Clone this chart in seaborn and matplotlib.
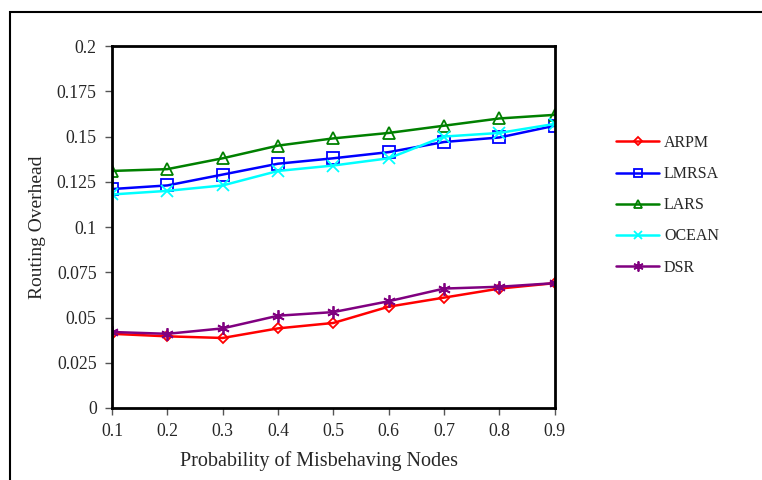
import numpy as np
import pandas as pd
import matplotlib
matplotlib.use("Agg")
import matplotlib.pyplot as plt
import seaborn as sns
from matplotlib.patches import Rectangle

# data
prob = [0.1, 0.2, 0.3, 0.4, 0.5, 0.6, 0.7, 0.8, 0.9]
arpm = [0.041, 0.0396, 0.0387, 0.044, 0.047, 0.056, 0.061, 0.066, 0.069]
lmrsa = [0.121, 0.123, 0.129, 0.135, 0.138, 0.1414, 0.147, 0.1495, 0.156]
lars = [0.131, 0.132, 0.138, 0.145, 0.149, 0.152, 0.156, 0.160, 0.162]
ocean = [0.118, 0.120, 0.123, 0.131, 0.134, 0.138, 0.150, 0.152, 0.157]
dsr = [0.042, 0.041, 0.044, 0.051, 0.053, 0.059, 0.066, 0.067, 0.069]

series = ["ARPM", "LMRSA", "LARS", "OCEAN", "DSR"]
values = [arpm, lmrsa, lars, ocean, dsr]
colors = ["#ff0000", "#0000ff", "#008000", "#00ffff", "#800080"]
markers = ["D", "s", "^", "x", (6, 2, 0)]
msizes = [5, 8, 8, 8, 9]

sns.set_style("white")
plt.rcParams["font.family"] = ["Liberation Serif", "DejaVu Serif"]

fig = plt.figure(figsize=(7.62, 4.8), dpi=100)
ax = fig.add_axes([0.147, 0.15, 0.581, 0.754])

for name, vals, c, m, ms in zip(series, values, colors, markers, msizes):
    df = pd.DataFrame({"x": prob, "y": vals})
    sns.lineplot(data=df, x="x", y="y", ax=ax, color=c, marker=m,
                 markersize=ms, markerfacecolor="none", markeredgecolor=c,
                 markeredgewidth=1.3, linewidth=1.8, label=name)

ax.set_xlim(0.1, 0.9)
ax.set_ylim(0, 0.2)
ax.set_xticks(prob)
ax.set_xticklabels(["0.1", "0.2", "0.3", "0.4", "0.5", "0.6", "0.7", "0.8", "0.9"])
ax.set_yticks([0, 0.025, 0.05, 0.075, 0.1, 0.125, 0.15, 0.175, 0.2])
ax.set_yticklabels(["0", "0.025", "0.05", "0.075", "0.1", "0.125", "0.15", "0.175", "0.2"])
ax.tick_params(axis="both", direction="out", length=5, width=1, color="#555555",
               labelsize=12.8, pad=6, left=True, bottom=True)
for s in ax.spines.values():
    s.set_color("black")
    s.set_linewidth(2)

ax.set_xlabel("Probability of Misbehaving Nodes", fontsize=14.5)
ax.xaxis.set_label_coords(0.467, -0.12)
ax.set_ylabel("Routing Overhead", fontsize=14, labelpad=8)

leg = ax.legend(loc="center left", bbox_to_anchor=(1.106, 0.56), frameon=False,
                fontsize=11.5, handlelength=2.7, labelspacing=0.95, handletextpad=0.3,
                markerscale=0.8)

# outer frame like the pasted chart border
fig.patches.append(Rectangle((10 / 762, -0.1), 1.2, 1 - 12 / 480 + 0.1,
                             transform=fig.transFigure, fill=False,
                             edgecolor="black", linewidth=1.5))

fig.savefig("out.png", dpi=100)
